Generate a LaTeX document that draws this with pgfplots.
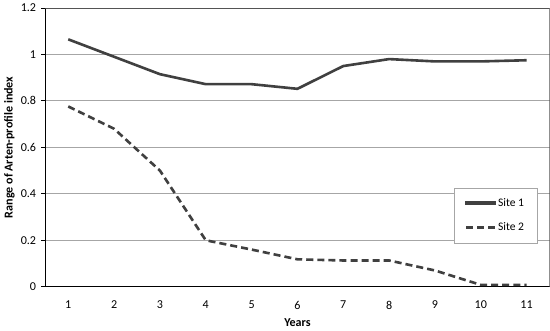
\documentclass[border=0pt]{standalone}
\usepackage{fontspec}
\setmainfont{Carlito}
\usepackage{pgfplots}
\pgfplotsset{compat=1.18}
\definecolor{linec}{HTML}{404040}
\definecolor{gridc}{HTML}{A6A6A6}
\begin{document}
\fontsize{12}{14}\selectfont
\begin{tikzpicture}
\begin{axis}[
  scale only axis,
  width=501pt, height=277pt,
  xmin=0.5, xmax=11.5,
  ymin=0, ymax=1.2,
  xtick={1,...,11},
  ytick={0,0.2,0.4,0.6,0.8,1,1.2},
  yticklabels={0,0.2,0.4,0.6,0.8,1,1.2},
  /pgf/number format/assume math mode=true,
  axis x line*=bottom, axis y line*=left,
  ymajorgrids,
  grid style={gridc, line width=0.8pt},
  axis line style={black, line width=1pt, -},
  x tick style={draw=none},
  y tick style={black, line width=0.8pt},
  tick align=outside,
  major tick length=4pt,
  xticklabel style={yshift=-6pt},
  yticklabel style={xshift=-1pt},
  xlabel={\textbf{Years}},
  ylabel={\textbf{Range of Arten-profile index}},
  xlabel style={yshift=-1pt},
  ylabel style={yshift=-2pt},
  legend style={at={(0.976,0.355)}, anchor=north east, draw=gridc,
    row sep=11pt, inner xsep=11pt, inner ysep=8pt, font=\fontsize{11.5}{13}\selectfont,
    nodes={inner xsep=2pt}},
  legend cell align=left,
  legend image code/.code={\draw[line width=2.6pt, #1] (0cm,0cm) -- (1cm,0cm);},
]
\addplot[linec, no marks, line width=2.6pt,
  legend image code/.code={\fill[linec] (0cm,-0.9pt) rectangle (1cm,0.9pt);}]
  coordinates {(1,1.065) (2,0.990) (3,0.915) (4,0.872) (5,0.872) (6,0.852) (7,0.950) (8,0.980) (9,0.970) (10,0.970) (11,0.975)};
\addlegendentry{Site 1}
\addplot[linec, no marks, line width=2.6pt, dash pattern=on 7pt off 4pt] coordinates {(1,0.776) (2,0.680) (3,0.500) (4,0.200) (5,0.160) (6,0.118) (7,0.113) (8,0.113) (9,0.070) (10,0.008) (11,0.008)};
\addlegendentry{Site 2}
\draw[linec!90, line width=0.8pt] (axis cs:0.5,1.2) -- (axis cs:11.5,1.2) -- (axis cs:11.5,0);
\end{axis}
\end{tikzpicture}
\end{document}
